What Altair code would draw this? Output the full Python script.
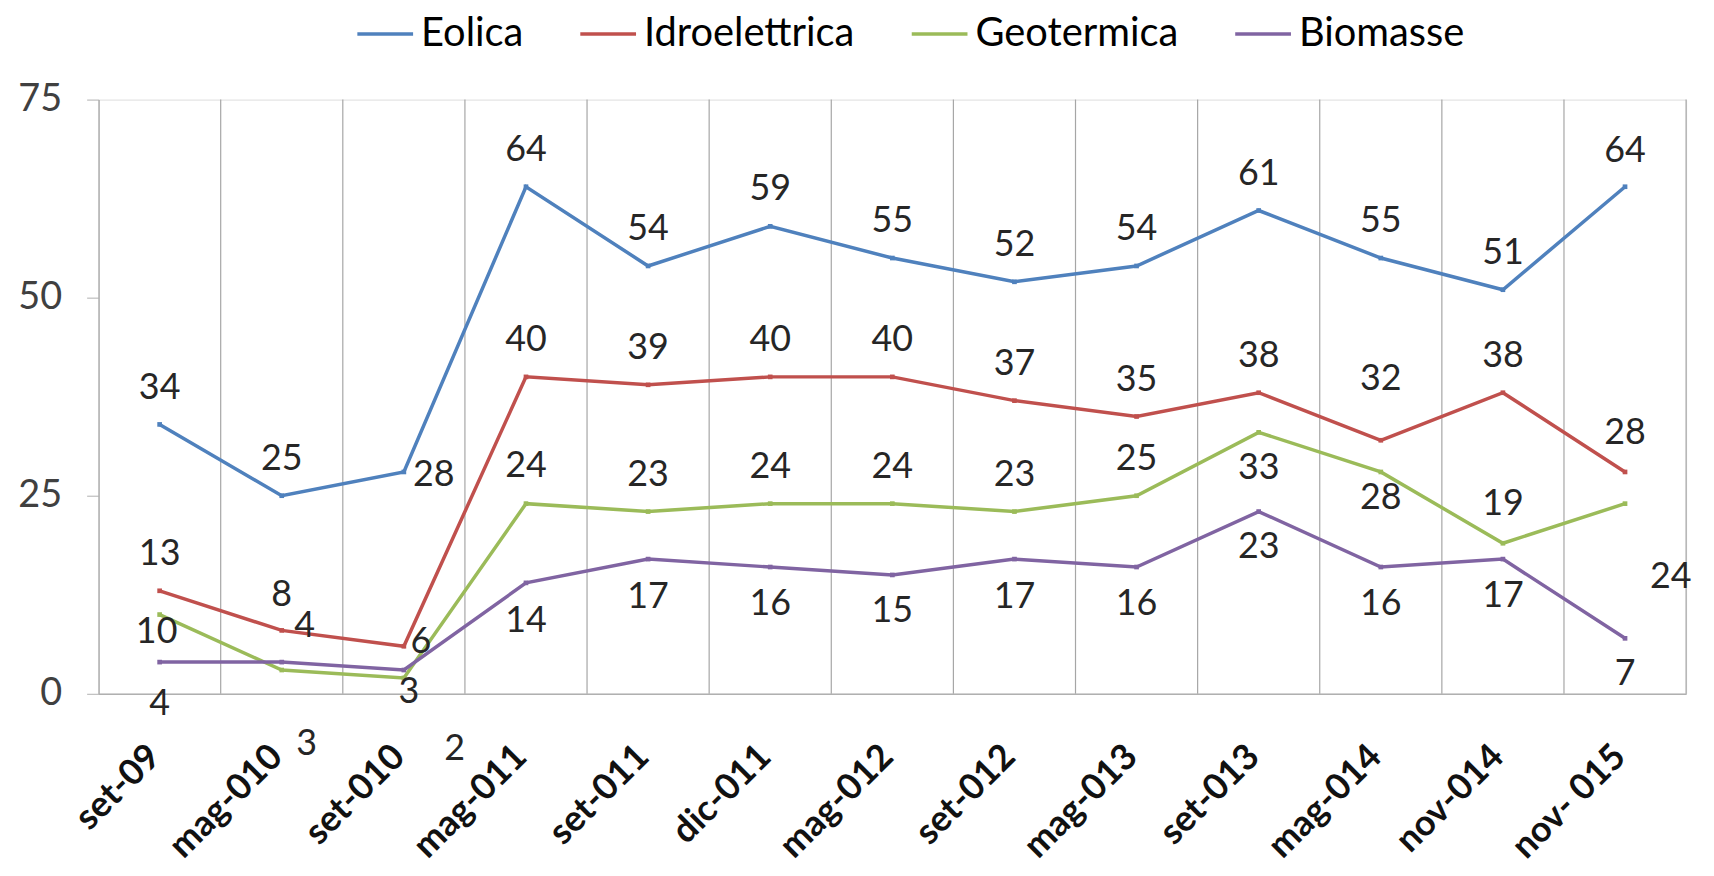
import altair as alt
import pandas as pd

categories = ["set-09", "mag-010", "set-010", "mag-011", "set-011", "dic-011",
              "mag-012", "set-012", "mag-013", "set-013", "mag-014", "nov-014", "nov- 015"]
series_names = ["Eolica", "Idroelettrica", "Geotermica", "Biomasse"]
series_colors = ["#4F81BD", "#C0504D", "#9BBB59", "#8064A2"]

eolica = [34, 25, 28, 64, 54, 59, 55, 52, 54, 61, 55, 51, 64]
idroelettrica = [13, 8, 6, 40, 39, 40, 40, 37, 35, 38, 32, 38, 28]
geotermica = [10, 3, 2, 24, 23, 24, 24, 23, 25, 33, 28, 19, 24]
biomasse = [4, 4, 3, 14, 17, 16, 15, 17, 16, 23, 16, 17, 7]

# data-label placement (pixel offsets from each point), as in the original
eolica_dx = [0, 0, 30, 0, 0, 0, 0, 0, 0, 0, 0, 0, 0]
eolica_dy = [-37, -37, 3, -37, -37, -37, -37, -37, -37, -37, -37, -37, -36]
idro_dx = [0, 0, 17, 0, 0, 0, 0, 0, 0, 0, 0, 0, 0]
idro_dy = [-37, -36, -4, -37, -37, -37, -37, -37, -37, -37, -62, -37, -39]
geo_dx = [-3, 25, 51, 0, 0, 0, 0, 0, 0, 0, 0, 0, 46]
geo_dy = [18, 74, 71, -38, -37, -37, -37, -37, -37, 36, 26, -39, 74]
bio_dx = [0, 23, 5, 0, 0, 0, 0, 0, 0, 0, 0, 0, 0]
bio_dy = [42, -36, 22, 38, 38, 37, 36, 38, 37, 36, 37, 37, 36]

values = [eolica, idroelettrica, geotermica, biomasse]
dxs = [eolica_dx, idro_dx, geo_dx, bio_dx]
dys = [eolica_dy, idro_dy, geo_dy, bio_dy]

rows = []
for s, vals, dx, dy in zip(series_names, values, dxs, dys):
    for c, v, a, b in zip(categories, vals, dx, dy):
        rows.append({"cat": c, "serie": s, "valore": v, "dx": a, "dy": b})
df = pd.DataFrame(rows)

W, H = 1595, 597
YMAX = 75
STEP = W / len(categories)
FONT = "Lato"

xscale = alt.Scale(type="band", domain=categories, paddingInner=0, paddingOuter=0)
xaxis = alt.Axis(title=None, labelAngle=-45, labelAlign="right", labelBaseline="middle",
                 labelFont=FONT, labelFontSize=36, labelFontWeight="bold",
                 labelColor="#111111", labelPadding=57, labelOffset=-5,
                 ticks=False, domainColor="#b0b0b0", domainWidth=1.5, grid=False)
yaxis = alt.Axis(title=None, values=[0, 25, 50, 75], grid=False,
                 labelFont=FONT, labelFontSize=38, labelColor="#404040",
                 labelPadding=25, tickSize=12, tickColor="#b0b0b0",
                 domainColor="#b0b0b0", domainWidth=1.5)
yscale = alt.Scale(domain=[0, YMAX], nice=False)

grid_df = pd.DataFrame({"cat": categories[1:]})
end_df = pd.DataFrame({"cat": categories[-1:]})

grid = alt.Chart(grid_df).mark_rule(color="#a6a6a6", strokeWidth=1.2).encode(
    x=alt.X("cat:N", scale=xscale, axis=xaxis, bandPosition=0),
    y=alt.value(0), y2=alt.value(H),
)
grid_end = alt.Chart(end_df).mark_rule(color="#a6a6a6", strokeWidth=1.2).encode(
    x=alt.X("cat:N", scale=xscale, axis=xaxis, bandPosition=1),
    y=alt.value(0), y2=alt.value(H),
)

color = alt.Color("serie:N", scale=alt.Scale(domain=series_names, range=series_colors),
                  legend=alt.Legend(title=None, orient="none", direction="horizontal",
                                    legendX=258, legendY=-96, padding=0,
                                    symbolType="stroke", symbolSize=3136,
                                    symbolStrokeWidth=3.5, labelFont=FONT,
                                    labelFontSize=40, labelColor="#000000",
                                    labelOffset=6, columnPadding=50,
                                    labelLimit=400))

lines = alt.Chart(df).mark_line(
    strokeWidth=3.5,
    point=alt.OverlayMarkDef(shape="square", size=22, filled=True),
).encode(
    x=alt.X("cat:N", scale=xscale, axis=xaxis),
    y=alt.Y("valore:Q", scale=yscale, axis=yaxis),
    color=color,
    detail="serie:N",
)

labels = alt.Chart(df).transform_calculate(
    ylab=f"datum.valore - datum.dy * {YMAX} / {H}",
    xoff=f"datum.dx + {STEP / 2}",
).mark_text(font=FONT, fontSize=36, color="#262626",
            align="center", baseline="middle").encode(
    x=alt.X("cat:N", scale=xscale, axis=xaxis),
    y=alt.Y("ylab:Q", scale=yscale, axis=yaxis),
    xOffset=alt.XOffset("xoff:Q", scale=None),
    text="valore:Q",
)

chart = alt.layer(grid, grid_end, lines, labels).properties(
    width=W, height=H,
    autosize=alt.AutoSizeParams(type="none"),
    padding={"left": 91, "top": 90, "right": 20, "bottom": 170},
).configure_view(stroke=None).configure(background="white")

chart.save("out.html", embed_options={"renderer": "svg", "actions": False})
